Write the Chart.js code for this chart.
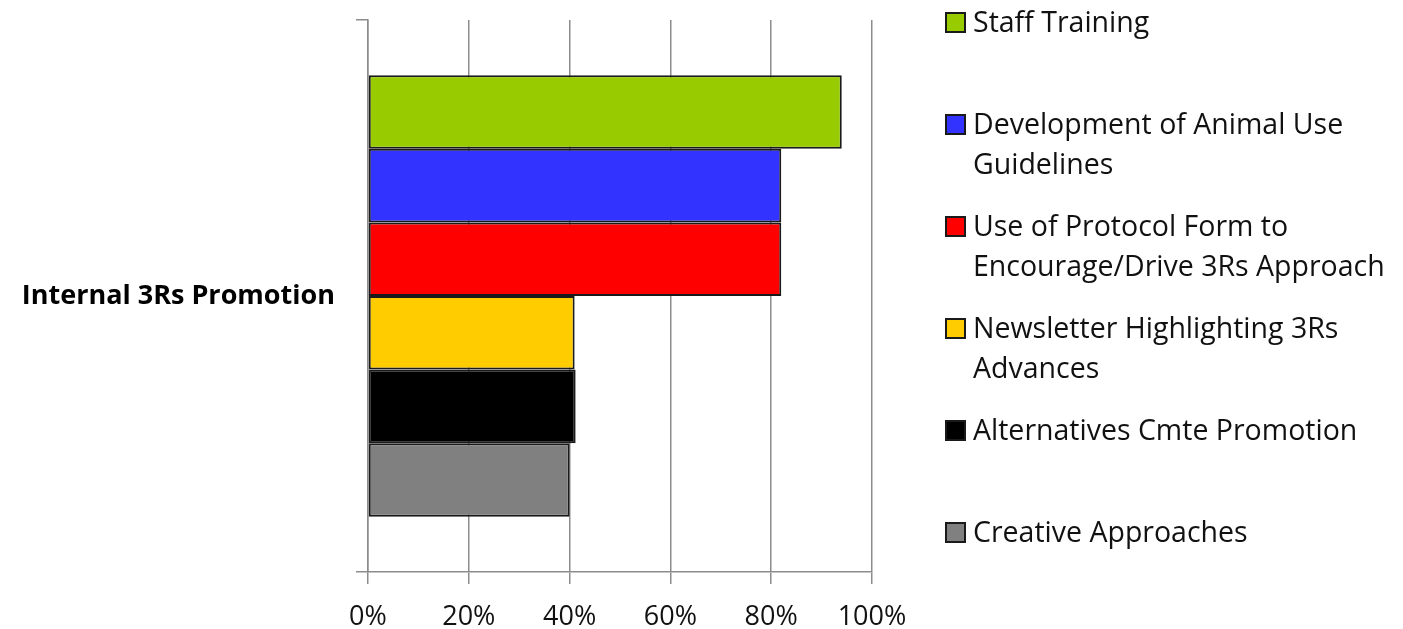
<!DOCTYPE html>
<html>
<head>
<meta charset="utf-8">
<script src="https://cdn.jsdelivr.net/npm/chart.js@4.4.1/dist/chart.umd.min.js"></script>
<style>
  body { margin: 0; background: #fff; }
  canvas { display: block; }
</style>
</head>
<body>
<canvas id="chart" width="1403" height="629"></canvas>
<script>
// Data
const categories = ['Internal 3Rs Promotion'];
const seriesNames = [
    'Staff Training',
    'Development of Animal Use Guidelines',
    'Use of Protocol Form to Encourage/Drive 3Rs Approach',
    'Newsletter Highlighting 3Rs Advances',
    'Alternatives Cmte Promotion',
    'Creative Approaches'
];
const seriesValues = [94, 82, 82, 41, 41.2, 40];
const seriesColors = ['#99cc00', '#3333ff', '#ff0000', '#ffcc00', '#000000', '#808080'];
const xTicks = [0, 20, 40, 60, 80, 100];

const FONT = '"Open Sans", "Noto Sans", sans-serif';

// Legend drawn on the right, wrapping long names like the original
const sideLegend = {
    id: 'sideLegend',
    afterDraw(chart) {
        const ctx = chart.ctx;
        const boxX = 946, boxSize = 19, textX = 973;
        const maxWidth = chart.width - textX - 4;
        const lineHeight = 40, firstBaseline = 32, step = 102;
        ctx.save();
        ctx.font = '28.5px ' + FONT;
        ctx.textBaseline = 'alphabetic';
        ctx.textAlign = 'left';
        chart.data.datasets.forEach((ds, i) => {
            const base = firstBaseline + i * step;
            ctx.fillStyle = ds.backgroundColor;
            ctx.fillRect(boxX, base - boxSize, boxSize, boxSize);
            ctx.strokeStyle = '#1a1a1a';
            ctx.lineWidth = 2;
            ctx.strokeRect(boxX, base - boxSize, boxSize, boxSize);

            // simple word wrap
            const words = ds.label.split(' ');
            const lines = [];
            let line = '';
            words.forEach(w => {
                const test = line ? line + ' ' + w : w;
                if (ctx.measureText(test).width > maxWidth && line) {
                    lines.push(line);
                    line = w;
                } else {
                    line = test;
                }
            });
            lines.push(line);
            ctx.fillStyle = '#111';
            lines.forEach((l, k) => ctx.fillText(l, textX, base + k * lineHeight));
        });
        ctx.restore();
    }
};

const datasets = seriesNames.map((name, i) => ({
    label: name,
    data: [seriesValues[i]],
    backgroundColor: seriesColors[i],
    borderColor: '#1a1a1a',
    borderWidth: 2,
    borderSkipped: false,
    categoryPercentage: 0.8,
    barPercentage: 1.0
}));

new Chart(document.getElementById('chart'), {
    type: 'bar',
    data: { labels: categories, datasets: datasets },
    options: {
        indexAxis: 'y',
        responsive: false,
        animation: false,
        layout: { padding: { top: 20, right: 531, left: 0, bottom: 0 } },
        plugins: {
            legend: { display: false },
            tooltip: { enabled: false }
        },
        scales: {
            x: {
                min: 0,
                max: 100,
                afterBuildTicks: (scale) => { scale.ticks = xTicks.map(v => ({ value: v })); },
                afterFit: (scale) => { scale.height = 57; },
                ticks: {
                    callback: (v) => v + '%',
                    color: '#111',
                    font: { family: FONT, size: 27 },
                    padding: 17
                },
                grid: { color: '#8c8c8c', lineWidth: 1.5, tickLength: 12 },
                border: { color: '#8c8c8c', width: 1.5 }
            },
            y: {
                afterFit: (scale) => {
                    scale.width = 368;
                    scale.paddingTop = 0;
                    scale.paddingBottom = 0;
                },
                ticks: {
                    color: '#000',
                    font: { family: FONT, size: 27, weight: 'bold' },
                    padding: 21
                },
                grid: { drawOnChartArea: false, color: '#8c8c8c', lineWidth: 1.5, tickLength: 12, offset: true },
                border: { color: '#8c8c8c', width: 1.5 }
            }
        }
    },
    plugins: [sideLegend]
});
</script>
</body>
</html>
